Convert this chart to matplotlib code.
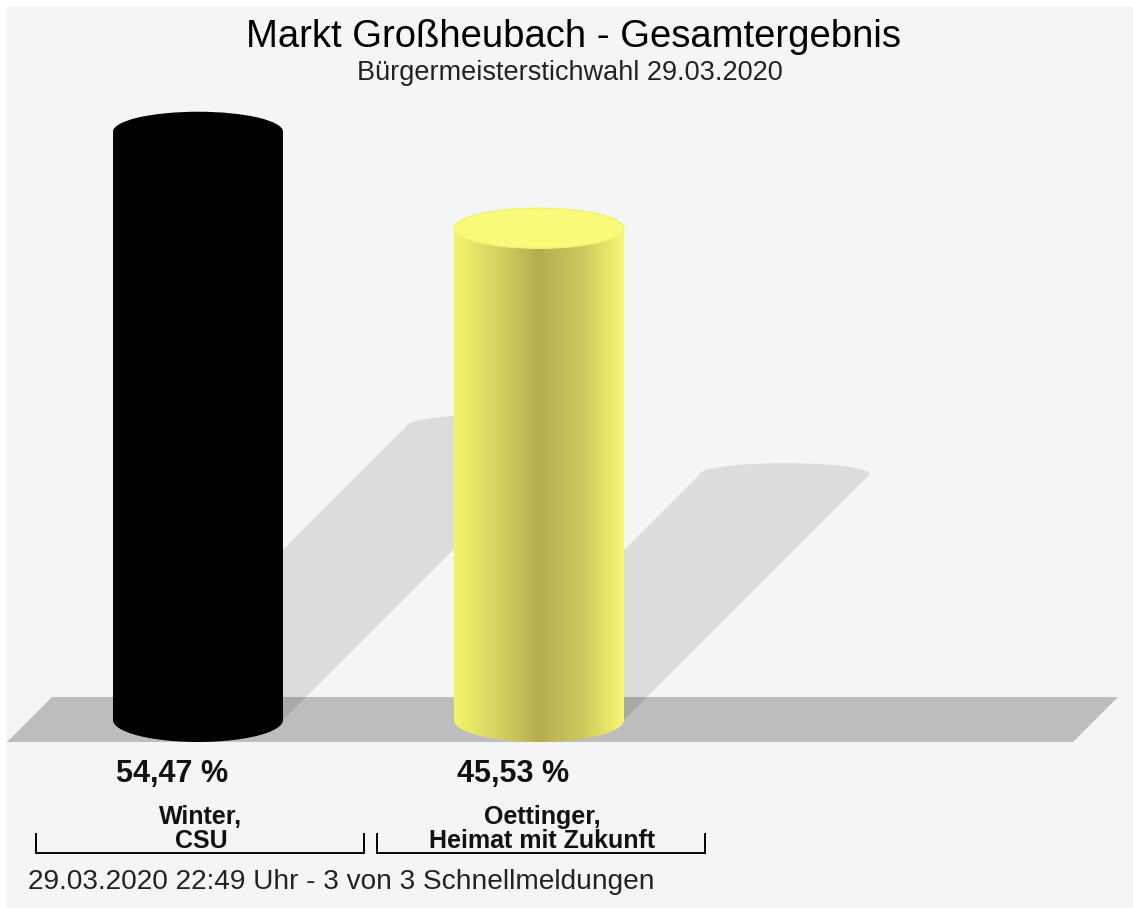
import numpy as np
import matplotlib
matplotlib.use("Agg")
import matplotlib.pyplot as plt
from matplotlib.patches import Polygon, Ellipse, Rectangle
from matplotlib.path import Path
from matplotlib.colors import LinearSegmentedColormap

plt.rcParams['font.family'] = ['Liberation Sans', 'DejaVu Sans']

# Stichwahl results
candidates = ["Winter,\nCSU", "Oettinger,\nHeimat mit Zukunft"]
shares = [54.47, 45.53]
share_labels = ["54,47 %", "45,53 %"]
bar_colors = ["#000000", "#f8f870"]

title = "Markt Großheubach - Gesamtergebnis"
subtitle = "Bürgermeisterstichwahl 29.03.2020"
footer = "29.03.2020 22:49 Uhr - 3 von 3 Schnellmeldungen"

# layout in pixels
W, H = 1133, 908
base_y = 720          # centre of the cylinder bottoms
px_per_pct = 10.8
centers = [198, 539]
half_w = 85
ry_top, ry_bot = 20, 22
bg = "#f5f5f5"

fig = plt.figure(figsize=(W / 100, H / 100), dpi=100, facecolor="white")

# pixel axes for floor, shadows and text
ax = fig.add_axes([0, 0, 1, 1])
ax.set_xlim(0, W)
ax.set_ylim(H, 0)
ax.axis("off")
ax.add_patch(Rectangle((6, 7), W, H, facecolor=bg, edgecolor="none", zorder=0))

# floor
ax.add_patch(Polygon([(7, 742), (52, 697), (1118, 697), (1073, 742)],
                     closed=True, facecolor="#bdbdbd", edgecolor="none", zorder=1))

# shadows, sheared to the upper right
for cx, v in zip(centers, shares):
    h = 0.5 * v * px_per_pct
    x0, x1 = cx - half_w, cx + half_w
    t = np.linspace(np.pi, 0, 60)
    arc_x = cx + h + half_w * np.cos(t)
    arc_y = base_y - h - 11 * np.sin(t)
    pts = [(x0, base_y)] + list(zip(arc_x, arc_y)) + [(x1, base_y)]
    ax.add_patch(Polygon(pts, closed=True, facecolor="black", alpha=0.1,
                         edgecolor="none", zorder=2))

# bar axes: x in pixels, y in percent
bx = fig.add_axes([0, 0, 1, 1])
bx.set_xlim(0, W)
bx.set_ylim(-(H - base_y) / px_per_pct, base_y / px_per_pct)
bx.axis("off")
bx.patch.set_alpha(0)

side_cmap = LinearSegmentedColormap.from_list(
    "side", ["#f4f46c", "#d8d262", "#b4ae50", "#ccc75c", "#f8f872"])
grad = np.linspace(0, 1, 256).reshape(1, -1)

for cx, v, col in zip(centers, shares, bar_colors):
    x0, x1 = cx - half_w, cx + half_w
    rb = ry_bot / px_per_pct
    rt = ry_top / px_per_pct
    t = np.linspace(np.pi, 2 * np.pi, 80)
    bottom = np.column_stack([cx + half_w * np.cos(t), rb * np.sin(t)])
    verts = np.vstack([[x0, v], bottom, [x1, v], [x0, v]])
    body = Path(verts, closed=True)
    if col == "#000000":
        bx.add_patch(Polygon(verts, closed=True, facecolor="black", edgecolor="none", zorder=3))
        top_col = "black"
    else:
        im = bx.imshow(grad, cmap=side_cmap, aspect="auto",
                       extent=[x0, x1, -rb, v], zorder=3, interpolation="bilinear")
        im.set_clip_path(body, bx.transData)
        top_col = "#f9f97a"
    bx.add_patch(Ellipse((cx, v), 2 * half_w, 2 * rt, facecolor=top_col,
                         edgecolor="#f2f272" if top_col != "black" else "none",
                         lw=1.0, zorder=4))

# value labels and candidate brackets
for cx, lab, name in zip(centers, share_labels, candidates):
    ax.text(cx - 26, 774, lab, ha="center", va="center", fontsize=22,
            fontweight="bold", color="#111111")
    ax.text(cx + 3, 829, name, ha="center", va="center", fontsize=18,
            fontweight="bold", color="#111111", linespacing=1.0)
    ax.plot([cx - 162, cx - 162, cx + 166, cx + 166], [834, 852.5, 852.5, 834],
            color="black", lw=1.4, solid_joinstyle="miter")

ax.text(574, 37, title, ha="center", va="center", fontsize=27.5, color="black")
ax.text(570, 73, subtitle, ha="center", va="center", fontsize=19.5, color="#222222")
ax.text(28, 882, footer, ha="left", va="center", fontsize=20.2, color="#222222")

fig.savefig("out.png", dpi=100, facecolor=fig.get_facecolor())
